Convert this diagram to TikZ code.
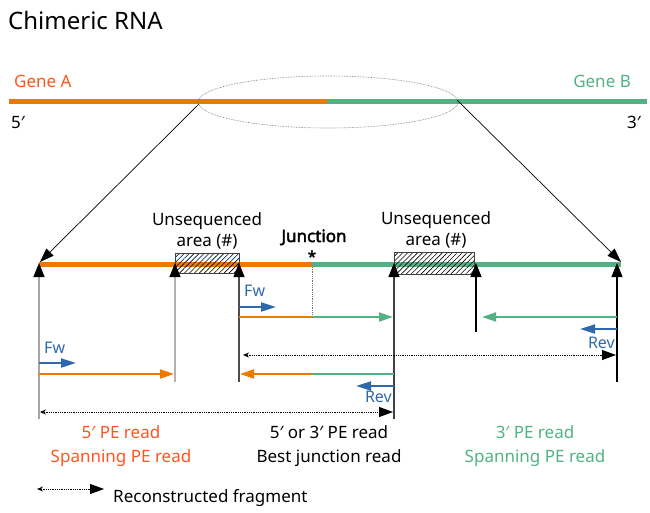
\documentclass[tikz,border=0pt]{standalone}
\usepackage{fontspec}
\setmainfont{Noto Sans}
\newfontfamily\junctionfont{Noto Sans}[FakeBold = 2.5]
\usetikzlibrary{arrows.meta, patterns.meta}
\definecolor{geneOrange}{RGB}{238,120,0}
\definecolor{labelOrange}{RGB}{255,85,30}
\definecolor{geneGreen}{RGB}{82,178,132}
\definecolor{readBlue}{RGB}{48,104,172}
\begin{document}
\begin{tikzpicture}[x = 1pt, y = -1pt,
		genebar/.style = {line width = 5pt},
		readline/.style = {line width = 2pt},
		readtip/.style = {-{Triangle[length = 14pt, width = 9pt]}},
		dirarrow/.style = {readBlue, line width = 2pt, -{Triangle[length = 15pt, width = 9pt]}},
		breakpoint/.style = {line width = 1.2pt, -{Triangle[length = 14pt, width = 11pt, color = black]}},
		fragment/.style = {densely dotted, line width = 0.8pt, {Stealth[length = 6pt, width = 5pt]}-{Triangle[length = 14pt, width = 10pt]}},
		zoomline/.style = {line width = 0.7pt, -{Triangle[length = 14pt, width = 10pt]}},
		hatchbox/.style = {draw = black!75, line width = 0.8pt, pattern = {Lines[angle = 45, distance = 3.5pt, line width = 0.6pt]}},
		txt/.style = {inner sep = 0pt, font = \fontsize{17}{21}\selectfont},
		dirtxt/.style = {inner sep = 0pt, readBlue, font = \fontsize{16}{19}\selectfont}]
	\def\xLeft{39};
	\def\xGapA{175};
	\def\xGapAEnd{239};
	\def\xJunction{312};
	\def\xGapB{394};
	\def\xGapBEnd{476};
	\def\xRight{617};
	\def\yTop{101.5};
	\def\yBar{264.5};
	\def\yRowA{317};
	\def\yRowB{355};
	\def\yRowC{374};
	\def\yRowD{412};

	\useasboundingbox (0,0) rectangle (650,512);

	\begin{scope}
		\node [txt, anchor = base west, font = \fontsize{24}{28}\selectfont] (title) at (8,29) {Chimeric RNA};
		\node [txt, anchor = base west, labelOrange] (geneA) at (14,87) {Gene A};
		\node [txt, anchor = base east, geneGreen] (geneB) at (631,87) {Gene B};
		\node [txt, anchor = base west] (fiveEnd) at (11,128) {5′};
		\node [txt, anchor = base east] (threeEnd) at (641,128) {3′};
		\draw [genebar, geneOrange] (9,\yTop) -- (327,\yTop);
		\draw [genebar, geneGreen] (327,\yTop) -- (647,\yTop);
		\draw [densely dotted, black!60, line width = 0.6pt] (328,102) ellipse [x radius = 130, y radius = 26];
		\coordinate (zoomL) at (199,104);
		\coordinate (zoomR) at (457,100);
	\end{scope}

	\begin{scope}
		\draw [genebar, geneOrange] (\xLeft,\yBar) -- (\xJunction,\yBar);
		\draw [genebar, geneGreen] (\xJunction,\yBar) -- (621,\yBar);
		\coordinate (barL) at (40,262);
		\coordinate (barR) at (621,262);
		\draw [zoomline] (zoomL) -- (barL);
		\draw [zoomline] (zoomR) -- (barR);
		\draw [hatchbox] (\xGapA,253) rectangle (\xGapAEnd,273);
		\draw [hatchbox] (\xGapB,252) rectangle (474,274);
		\node [txt, anchor = south, align = center] (gapA) at (207,249) {Unsequenced\\area (\#)};
		\node [txt, anchor = south, align = center] (gapB) at (436,248) {Unsequenced\\area (\#)};
		\node [txt, anchor = base, font = \junctionfont\fontsize{17}{21}\selectfont] (junction) at (314,242) {Junction};
		\node [txt, anchor = base, font = \junctionfont\fontsize{15}{18}\selectfont] (star) at (312,262) {*};
		\draw [densely dotted, black!55, line width = 0.8pt] (\xJunction,267) -- (\xJunction,\yRowA);
	\end{scope}

	\begin{scope}
		\foreach \x/\yEnd/\shade in {\xLeft/419/black!35, \xGapA/382/black!30, \xGapAEnd/382/black!70, \xGapB/419/black!75, \xGapBEnd/332/black, \xRight/382/black}
			\draw [breakpoint, \shade] (\x,\yEnd) -- (\x,263);
	\end{scope}

	\begin{scope}
		\draw [readline, geneOrange] (\xGapAEnd,\yRowA) -- (\xJunction,\yRowA);
		\draw [readline, readtip, geneGreen] (\xJunction,\yRowA) -- (393,\yRowA);
		\draw [dirarrow] (\xGapAEnd,307) -- (276,307);
		\node [dirtxt, anchor = base west] (fwJunction) at (244,296) {Fw};
		\draw [readline, readtip, geneGreen] (\xRight,\yRowA) -- (482,\yRowA);
		\draw [dirarrow] (\xRight,329) -- (580,329);
		\node [dirtxt, anchor = base east] (revSpanB) at (615,348) {Rev};
		\draw [fragment] (243,\yRowB) -- (616,\yRowB);
	\end{scope}

	\begin{scope}
		\draw [readline, readtip, geneOrange] (\xLeft,\yRowC) -- (174,\yRowC);
		\draw [dirarrow] (\xLeft,363) -- (76,363);
		\node [dirtxt, anchor = base west] (fwSpanA) at (44,353) {Fw};
		\draw [readline, readtip, geneOrange] (\xJunction,\yRowC) -- (240,\yRowC);
		\draw [readline, geneGreen] (\xJunction,\yRowC) -- (\xGapB,\yRowC);
		\draw [dirarrow] (\xGapB,386) -- (356,386);
		\node [dirtxt, anchor = base east] (revJunction) at (392,402) {Rev};
		\draw [fragment] (40,\yRowD) -- (393,\yRowD);
	\end{scope}

	\begin{scope}
		\node [txt, anchor = base, labelOrange] (readA) at (121,438) {5′ PE read};
		\node [txt, anchor = base, labelOrange] (spanA) at (121,462) {Spanning PE read};
		\node [txt, anchor = base] (readJ) at (329,438) {5′ or 3′ PE read};
		\node [txt, anchor = base] (bestJ) at (329,462) {Best junction read};
		\node [txt, anchor = base, geneGreen] (readB) at (535,438) {3′ PE read};
		\node [txt, anchor = base, geneGreen] (spanB) at (535,462) {Spanning PE read};
		\coordinate (legendL) at (37,489);
		\coordinate (legendR) at (104,489);
		\draw [fragment] (legendL) -- (legendR);
		\node [txt, anchor = base west] (legend) at (113,502) {Reconstructed fragment};
	\end{scope}
\end{tikzpicture}
\end{document}
